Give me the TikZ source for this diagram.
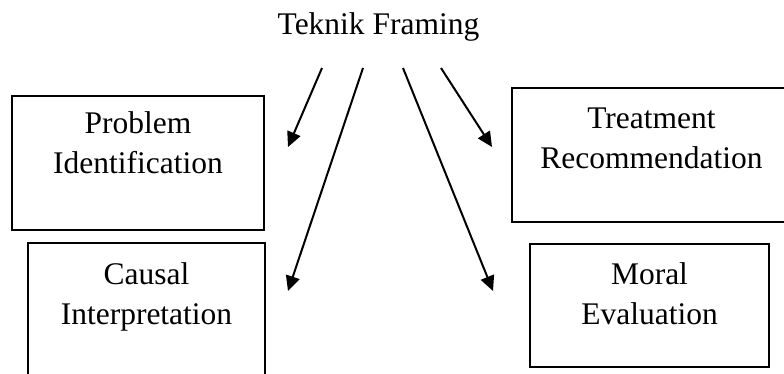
\documentclass[tikz,border=0pt]{standalone}
\usepackage{fontspec}
\setmainfont{Liberation Serif}
\usetikzlibrary{arrows.meta}
\tikzstyle{frame box}   = [draw,line width=1.6pt,inner sep=0]
\tikzstyle{box text}    = [align=center,inner sep=0,anchor=base]
\tikzstyle{frame arrow} = [line width=2pt,-{Triangle[length=15pt,width=14pt]}]

\begin{document}
\begin{tikzpicture}[x=1pt,y=-1pt,font=\fontsize{31.5}{40}\selectfont]

    \useasboundingbox (0,0) rectangle (784,374);

    % Title
    \node(title)[box text] at (378.5,35) {Teknik Framing};

    % Left column (base = last line)
    \node(problem)[frame box, minimum width=252, minimum height=134] at (138,163) {};
    \node(problem text)[box text] at (138,174) {Problem\\Identification};
    \node(causal)[frame box, minimum width=237, minimum height=135] at (146.5,310.5) {};
    \node(causal text)[box text] at (146.5,324) {Causal\\Interpretation};

    % Right column
    \node(treatment)[frame box, minimum width=279, minimum height=134] at (651.5,155) {};
    \node(treatment text)[box text] at (651.5,169) {Treatment\\Recommendation};
    \node(moral)[frame box, minimum width=239, minimum height=123] at (649.5,305.5) {};
    \node(moral text)[box text] at (649.5,324) {Moral\\Evaluation};

    % Arrow ends
    \coordinate(s1) at (322,68);
    \coordinate(s2) at (363,68);
    \coordinate(s3) at (403,68);
    \coordinate(s4) at (441,68);
    \coordinate(e1) at (288,147);
    \coordinate(e2) at (288,291);
    \coordinate(e3) at (493,291);
    \coordinate(e4) at (492,147);

    \draw[frame arrow] (s1) -- (e1);
    \draw[frame arrow] (s2) -- (e2);
    \draw[frame arrow] (s3) -- (e3);
    \draw[frame arrow] (s4) -- (e4);

\end{tikzpicture}
\end{document}
